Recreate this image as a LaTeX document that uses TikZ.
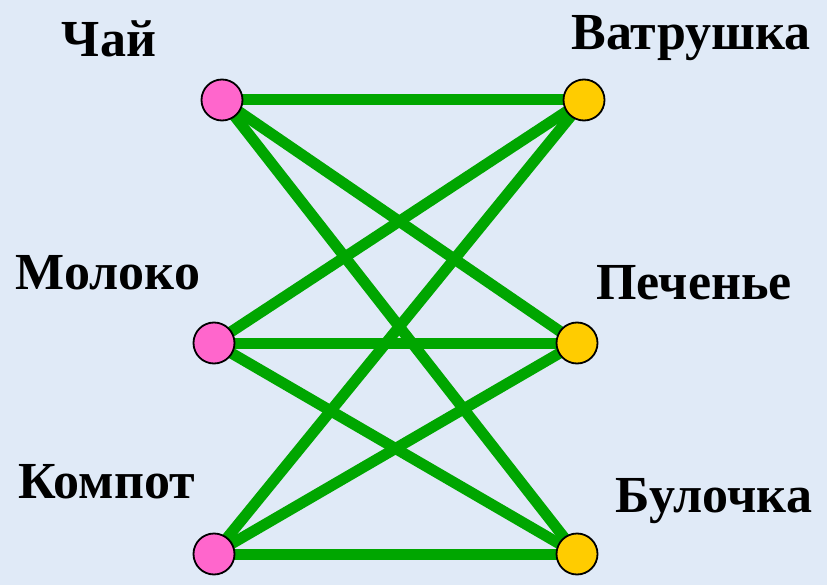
\documentclass[tikz,border=0pt]{standalone}
\usepackage{fontspec}
\setmainfont{Liberation Serif}
\definecolor{bgblue}{RGB}{224,234,247}
\definecolor{edgegreen}{RGB}{0,166,0}
\definecolor{pinkdot}{RGB}{255,102,204}
\definecolor{yellowdot}{RGB}{255,204,0}
\begin{document}
\begin{tikzpicture}[x=1pt,y=-1pt,
  dot/.style={circle,draw=black,line width=1.8pt,minimum size=41pt,inner sep=0pt},
  leftdot/.style={dot,fill=pinkdot},
  rightdot/.style={dot,fill=yellowdot},
  link/.style={edgegreen,line width=11pt},
  lbl/.style={anchor=base,inner sep=0pt,font=\fontsize{52}{60}\selectfont\bfseries}]
\fill[bgblue] (0,0) rectangle (827,585);
\useasboundingbox (0,0) rectangle (827,585);
\coordinate (c1) at (222,100);
\coordinate (c2) at (214,343);
\coordinate (c3) at (214,554);
\coordinate (d1) at (584,100);
\coordinate (d2) at (577,343);
\coordinate (d3) at (577,554);
\foreach \a in {c1,c2,c3}{
  \foreach \b in {d1,d2,d3}{
    \draw[link] (\a) -- (\b);
  }
}
\node[leftdot] (chai) at (c1) {};
\node[leftdot] (moloko) at (c2) {};
\node[leftdot] (kompot) at (c3) {};
\node[rightdot] (vatrushka) at (d1) {};
\node[rightdot] (pechenye) at (d2) {};
\node[rightdot] (bulochka) at (d3) {};
\node[lbl] (tchai) at (109,57) {Чай};
\node[lbl] (tvatr) at (691,50) {Ватрушка};
\node[lbl] (tmol) at (108,290) {Молоко};
\node[lbl] (tpech) at (694,300) {Печенье};
\node[lbl] (tkomp) at (107,498) {Компот};
\node[lbl] (tbul) at (714,512) {Булочка};
\end{tikzpicture}
\end{document}
